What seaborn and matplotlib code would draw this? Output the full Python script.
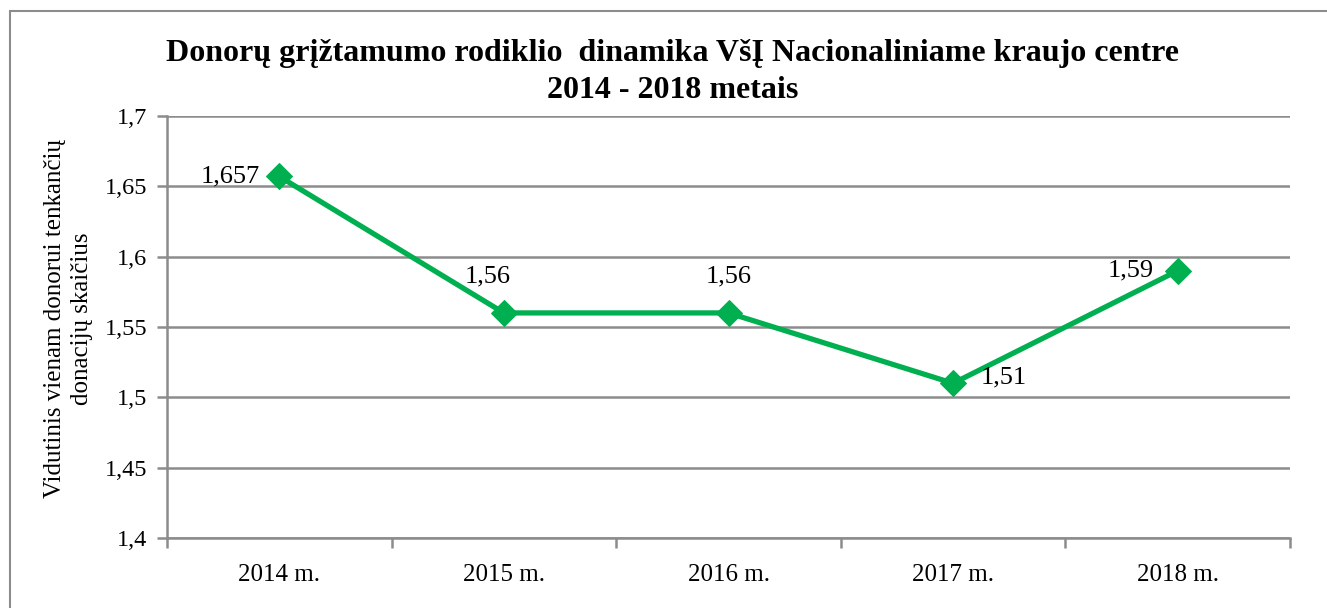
import numpy as np
import pandas as pd
import matplotlib
matplotlib.use("Agg")
import matplotlib.pyplot as plt
import seaborn as sns
from matplotlib.patches import Rectangle
from matplotlib.ticker import FuncFormatter

# data
years = ["2014 m.", "2015 m.", "2016 m.", "2017 m.", "2018 m."]
values = [1.657, 1.56, 1.56, 1.51, 1.59]
value_labels = ["1,657", "1,56", "1,56", "1,51", "1,59"]

df = pd.DataFrame({"year": years, "value": values})

sns.set_style("white")
plt.rcParams["font.family"] = ["Liberation Serif", "DejaVu Serif"]
plt.rcParams["text.color"] = "black"
plt.rcParams["axes.labelcolor"] = "black"
plt.rcParams["xtick.color"] = "black"
plt.rcParams["ytick.color"] = "black"

green = "#00B050"
grey = "#8C8C8C"

fig = plt.figure(figsize=(13.27, 6.08), dpi=100)
ax = fig.add_axes([167 / 1327, 1 - 538 / 608, 1123 / 1327, 422 / 608])

# outer chart border (only top and left visible in the reference)
fig.patches.append(Rectangle((10 / 1327, -0.1), 1.2, 1 - 11 / 608 + 0.1,
                             transform=fig.transFigure, fill=False,
                             edgecolor=grey, linewidth=1.5))

sns.lineplot(data=df, x="year", y="value", ax=ax, color=green, linewidth=3.8,
             marker="D", markersize=13, markeredgecolor=green, sort=False)

ax.set_xlim(-0.5, len(years) - 0.5)
ax.set_ylim(1.4, 1.7)
ax.set_yticks(np.arange(1.4, 1.7001, 0.05))
ax.yaxis.set_major_formatter(FuncFormatter(lambda v, p: ("%g" % round(v, 2)).replace(".", ",")))
ax.set_xticks(range(len(years)))
ax.set_xticklabels(years)
ax.set_xticks(np.arange(-0.5, len(years)), minor=True)

ax.grid(axis="y", color=grey, linewidth=1.8)
ax.set_axisbelow(True)
for s in ["top", "right"]:
    ax.spines[s].set_visible(False)
for s in ["left", "bottom"]:
    ax.spines[s].set_color(grey)
    ax.spines[s].set_linewidth(1.8)

ax.tick_params(axis="y", which="major", length=7, width=1.8, color=grey,
               labelsize=17.5, pad=7, direction="out", left=True, labelcolor="black")
ax.tick_params(axis="x", which="major", length=0, labelsize=18, pad=19, labelcolor="black")
ax.tick_params(axis="x", which="minor", length=7, width=1.8, color=grey,
               direction="out", bottom=True)

ax.set_xlabel("")
ax.set_ylabel("Vidutinis vienam donorui tenkančių\ndonacijų skaičius",
              fontsize=18, linespacing=1.3, color="black")
ax.yaxis.set_label_coords(-0.066, 0.52)

# data labels
offsets = [(-14, 0, "right", "center"), (-12, 18, "center", "bottom"),
           (0, 18, "center", "bottom"), (20, 4, "left", "center"),
           (-17, 0, "right", "center")]
for i, (v, lab) in enumerate(zip(values, value_labels)):
    dx, dy, ha, va = offsets[i]
    ax.annotate(lab, (i, v), xytext=(dx, dy), textcoords="offset points",
                ha=ha, va=va, fontsize=19, color="black")

fig.text(673 / 1327, 1 - 72 / 608,
         "Donorų grįžtamumo rodiklio  dinamika VšĮ Nacionaliniame kraujo centre\n2014 - 2018 metais",
         ha="center", va="center", fontsize=23, fontweight="bold",
         linespacing=1.35, color="black")

fig.savefig("out.png", dpi=100)
